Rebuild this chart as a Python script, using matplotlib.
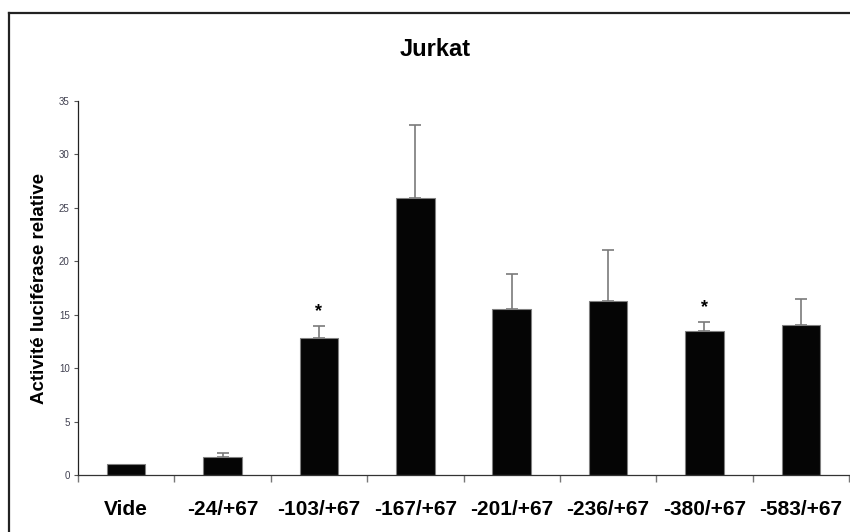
import matplotlib
matplotlib.use("Agg")
import matplotlib.pyplot as plt
import numpy as np
from matplotlib.lines import Line2D

plt.rcParams['font.family'] = ['Liberation Sans', 'DejaVu Sans']

constructs = ["Vide", "-24/+67", "-103/+67", "-167/+67", "-201/+67", "-236/+67", "-380/+67", "-583/+67"]
activity = [1.0, 1.7, 12.85, 25.9, 15.55, 16.25, 13.5, 14.0]
err_up = [0.0, 0.4, 1.05, 6.9, 3.25, 4.8, 0.8, 2.5]
significant = [False, False, True, False, False, False, True, False]
y_ticks = [0, 5, 10, 15, 20, 25, 30, 35]

fig = plt.figure(figsize=(8.5, 5.32), dpi=100)
ax = fig.add_axes([78 / 850, 57 / 532, 771 / 850, 374 / 532])

x = np.arange(len(constructs))
ax.bar(x, activity, width=0.4, color="#050505", edgecolor="#808080", linewidth=0.8, zorder=2)
yerr = np.array([np.zeros(len(err_up)), err_up])
ax.errorbar(x[1:], np.array(activity)[1:], yerr=yerr[:, 1:], fmt="none",
            ecolor="#7a7a7a", elinewidth=1.2, capsize=4, capthick=1.2, zorder=1)

for i, sig in enumerate(significant):
    if sig:
        ax.text(x[i], activity[i] + err_up[i] + 0.6, "*", ha="center", va="bottom",
                fontsize=13, fontweight="bold", color="black")

ax.set_xlim(-0.5, len(constructs) - 0.5)
ax.set_ylim(0, 35)
ax.set_yticks(y_ticks)
ax.set_yticklabels([str(t) for t in y_ticks], fontsize=7, color="#404050")
ax.tick_params(axis="y", direction="out", length=3, width=0.8, color="#555555", pad=3)

ax.set_xticks(x)
ax.set_xticklabels(constructs, fontsize=15, fontweight="bold")
ax.set_xticks(np.arange(len(constructs) + 1) - 0.5, minor=True)
ax.tick_params(axis="x", which="major", length=0, pad=18)
ax.tick_params(axis="x", which="minor", direction="out", length=5, width=1, color="#777777")

for s in ["top", "right"]:
    ax.spines[s].set_visible(False)
ax.spines["left"].set_color("#222222")
ax.spines["bottom"].set_color("#333333")
ax.spines["left"].set_linewidth(0.9)
ax.spines["bottom"].set_linewidth(0.9)

ax.set_ylabel("Activité luciférase relative", fontsize=13.5, fontweight="bold")
ax.yaxis.set_label_coords(-0.039, 0.5)

fig.text(435 / 850, 1 - 50 / 532, "Jurkat", ha="center", va="center", fontsize=17, fontweight="bold")

# outer frame (top and left edges visible)
fig.add_artist(Line2D([8.5 / 850, 849 / 850], [1 - 13 / 532, 1 - 13 / 532], color="#222222", linewidth=1.6))
fig.add_artist(Line2D([9 / 850, 9 / 850], [0, 1 - 13 / 532], color="#222222", linewidth=1.6))

fig.savefig("out.png", dpi=100)
